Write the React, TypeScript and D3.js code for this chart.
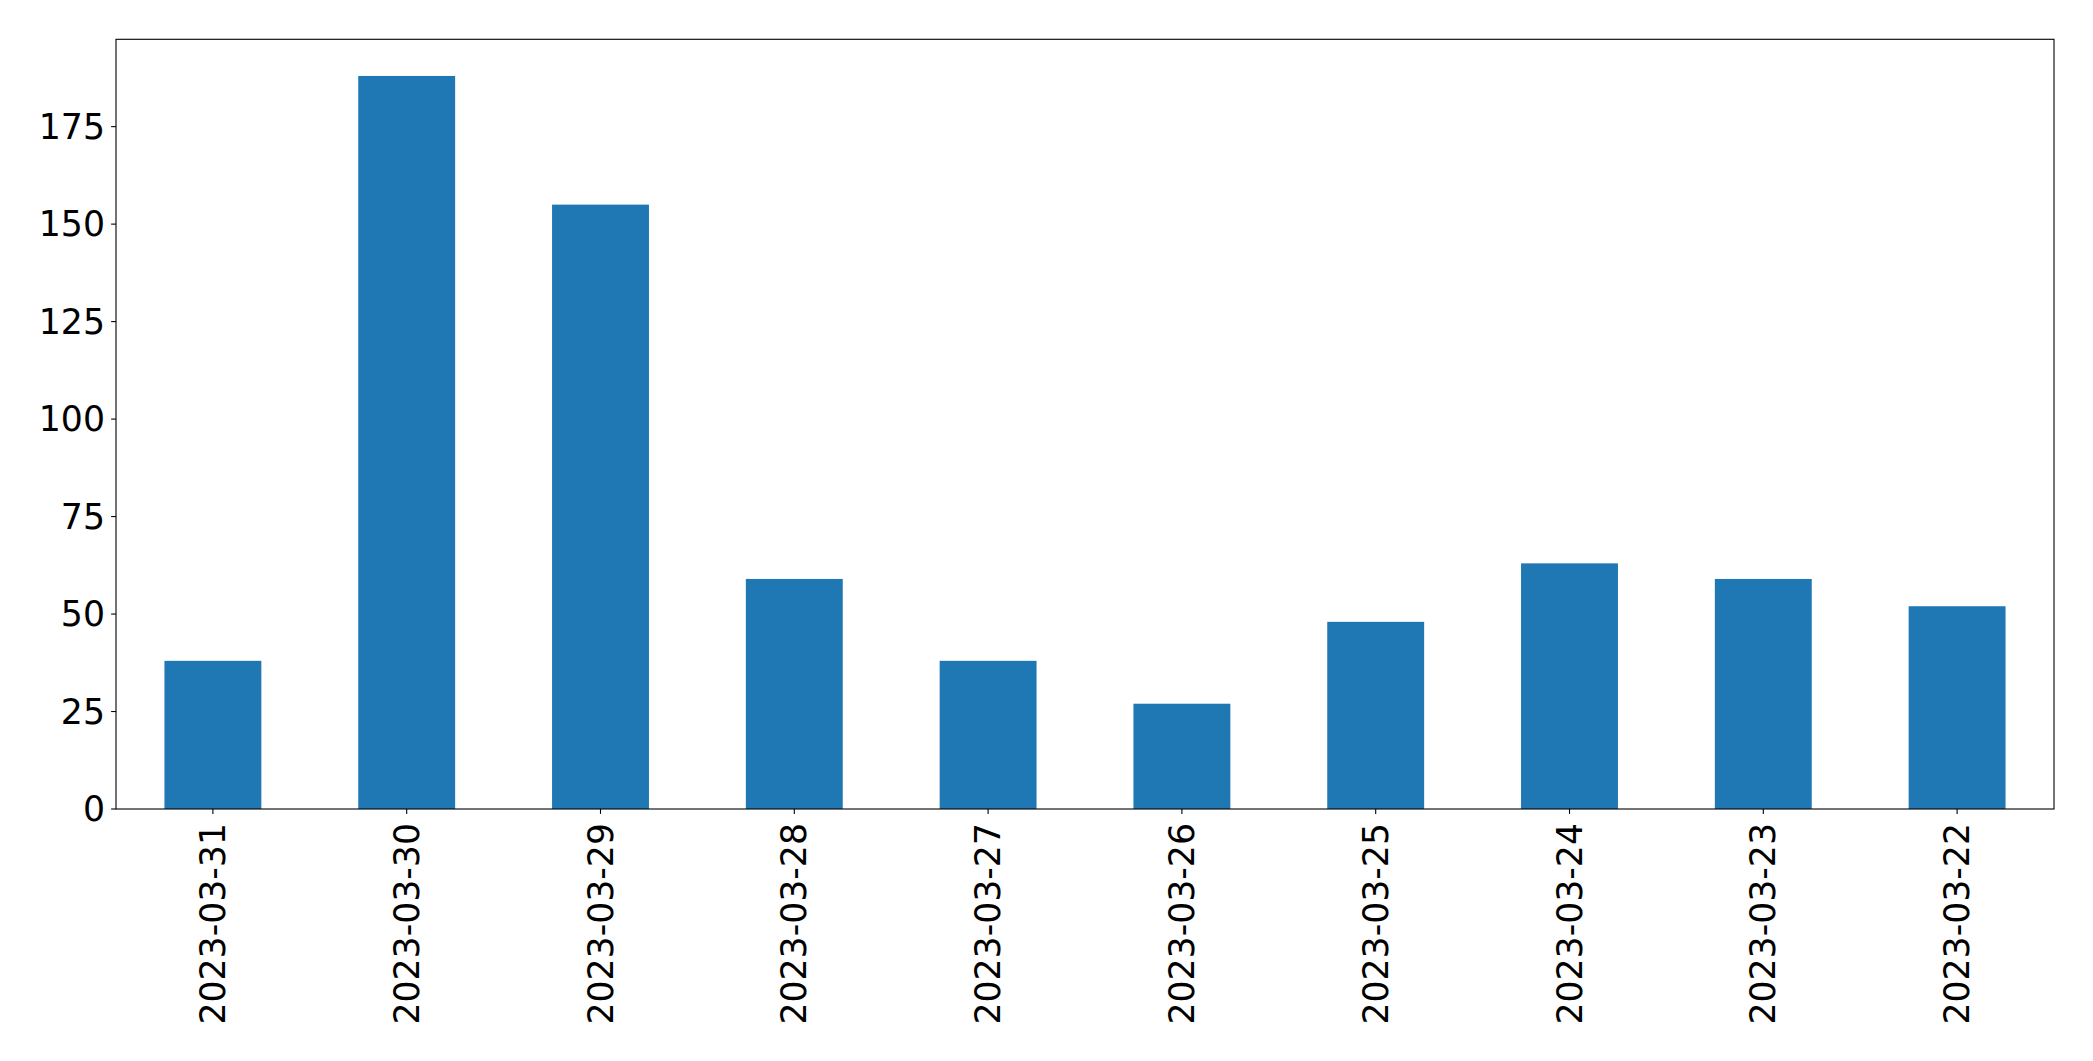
import React, { useEffect, useRef } from "react";
import * as d3 from "d3";

var categories = [
  "2023-03-31",
  "2023-03-30",
  "2023-03-29",
  "2023-03-28",
  "2023-03-27",
  "2023-03-26",
  "2023-03-25",
  "2023-03-24",
  "2023-03-23",
  "2023-03-22"
];
var counts = [38, 188, 155, 59, 38, 27, 48, 63, 59, 52];
var yTicks = [0, 25, 50, 75, 100, 125, 150, 175];

var width = 2093;
var height = 1061;
var margin = { left: 116, right: 39, top: 39.3, bottom: 252 };
var fontSize = 34.7;

const App = () => {
  const ref = useRef(null);

  useEffect(() => {
    var svg = d3.select(ref.current);
    svg.selectAll("*").remove();

    var x0 = margin.left;
    var x1 = width - margin.right;
    var y0 = height - margin.bottom;
    var y1 = margin.top;

    var x = d3
      .scaleBand()
      .domain(categories)
      .range([x0, x1])
      .paddingInner(0.5)
      .paddingOuter(0.25);

    var y = d3
      .scaleLinear()
      .domain([0, d3.max(counts) * 1.05])
      .range([y0, y1]);

    svg
      .selectAll("rect.bar")
      .data(counts)
      .enter()
      .append("rect")
      .classed("bar", true)
      .attr("x", (d, i) => x(categories[i]))
      .attr("y", d => y(d))
      .attr("width", x.bandwidth())
      .attr("height", d => y0 - y(d))
      .attr("fill", "#1f77b4");

    // frame
    svg
      .append("rect")
      .attr("x", x0)
      .attr("y", y1)
      .attr("width", x1 - x0)
      .attr("height", y0 - y1)
      .attr("fill", "none")
      .attr("stroke", "black")
      .attr("stroke-width", 1.1);

    // y ticks
    var yg = svg.append("g");
    yTicks.forEach(t => {
      yg.append("line")
        .attr("x1", x0 - 4.9)
        .attr("x2", x0)
        .attr("y1", y(t))
        .attr("y2", y(t))
        .attr("stroke", "black")
        .attr("stroke-width", 1.1);
      yg.append("text")
        .attr("x", x0 - 11)
        .attr("y", y(t))
        .attr("text-anchor", "end")
        .attr("dominant-baseline", "central")
        .attr("font-family", "DejaVu Sans")
        .attr("font-size", fontSize)
        .text(t);
    });

    // x ticks
    var xg = svg.append("g");
    categories.forEach(c => {
      var cx = x(c) + x.bandwidth() / 2;
      xg.append("line")
        .attr("x1", cx)
        .attr("x2", cx)
        .attr("y1", y0)
        .attr("y2", y0 + 4.9)
        .attr("stroke", "black")
        .attr("stroke-width", 1.1);
      xg.append("text")
        .attr("transform", `translate(${cx},${y0 + 14}) rotate(-90)`)
        .attr("text-anchor", "end")
        .attr("dominant-baseline", "central")
        .attr("font-family", "DejaVu Sans")
        .attr("font-size", fontSize)
        .text(c);
    });
  }, []);

  return (
    <svg
      ref={ref}
      width={width}
      height={height}
      style={{ position: "absolute", left: 0, top: 0, background: "white" }}
    />
  );
};

export default App;
